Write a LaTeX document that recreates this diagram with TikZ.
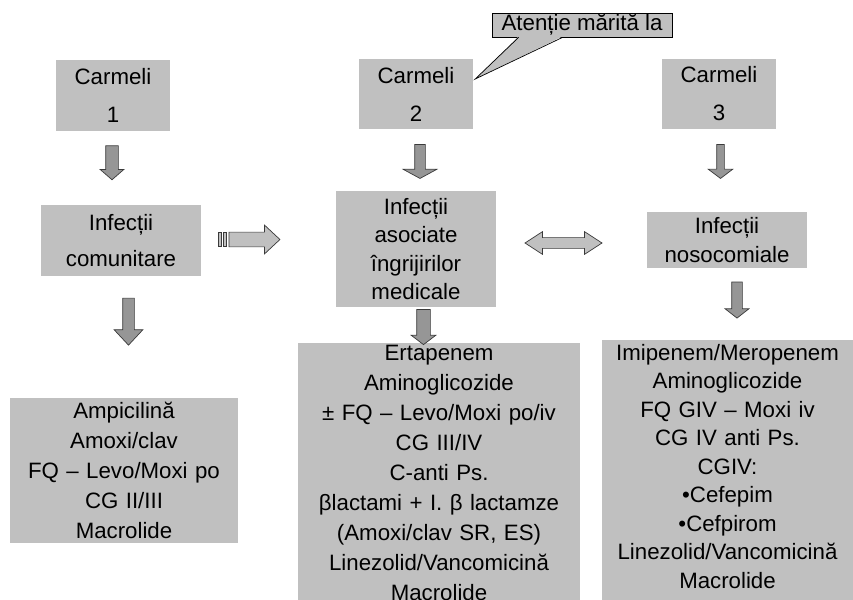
\documentclass[tikz,border=0pt]{standalone}
\usepackage{fontspec}
\setmainfont{Liberation Sans}
\usepackage{tikz}
\usetikzlibrary{shapes.arrows, calc}
\definecolor{boxgray}{HTML}{C0C0C0}
\definecolor{arrowgray}{HTML}{969696}
\definecolor{edgegray}{HTML}{3A3A3A}
\tikzstyle{box} = [rectangle, fill=boxgray, inner sep=0pt, align=center]
\tikzstyle{downarrow} = [single arrow, rotate=-90, draw=edgegray, fill=arrowgray, line width=0.6pt, minimum width=0pt, inner sep=0pt, single arrow tip angle=104]
\tikzstyle{sidearrow} = [single arrow, draw=edgegray, fill=boxgray, line width=0.6pt, minimum width=0pt, inner sep=0pt]
\tikzstyle{botharrow} = [double arrow, draw=edgegray, fill=boxgray, line width=0.6pt, minimum width=0pt, inner sep=0pt]
\tikzstyle{stripe} = [draw=edgegray, fill=boxgray, line width=0.6pt]

\begin{document}
\begin{tikzpicture}[x=0.03cm, y=-0.03cm]
\useasboundingbox (0,0) rectangle (853,600);

\node (c1) [box, minimum width=3.42cm, minimum height=2.13cm, text width=3.42cm, font=\fontsize{19}{32.4}\selectfont] at (113,95.5) {Carmeli\\1};
\node (c2) [box, minimum width=3.42cm, minimum height=2.1cm, text width=3.42cm, font=\fontsize{19}{32.4}\selectfont] at (416,94) {Carmeli\\2};
\node (c3) [box, minimum width=3.42cm, minimum height=2.1cm, text width=3.42cm, font=\fontsize{19}{32.4}\selectfont] at (719,94) {Carmeli\\3};

\node (inf1) [box, minimum width=4.8cm, minimum height=2.13cm, text width=4.8cm, font=\fontsize{19}{31.5}\selectfont] at (121,240.5) {Infecții\\comunitare};
\node (inf2) [box, minimum width=4.8cm, minimum height=3.48cm, text width=4.8cm, font=\fontsize{19}{24.3}\selectfont] at (416,249) {Infecții\\asociate\\îngrijirilor\\medicale};
\node (inf3) [box, minimum width=4.8cm, minimum height=1.68cm, text width=4.8cm, font=\fontsize{19}{24}\selectfont] at (727,240) {Infecții\\nosocomiale};

\node (t1) [box, minimum width=6.84cm, minimum height=4.35cm, text width=6.84cm, font=\fontsize{19}{25.6}\selectfont] at (124,470.5) {Ampicilină\\Amoxi/clav\\FQ – Levo/Moxi po\\CG II/III\\Macrolide};
\node (t2) [box, anchor=north, text width=8.46cm, inner ysep=0.06cm, text depth=9cm, font=\fontsize{19}{25.6}\selectfont] at (439,343) {Ertapenem\\Aminoglicozide\\± FQ – Levo/Moxi po/iv\\CG III/IV\\C-anti Ps.\\βlactami + I. β lactamze\\(Amoxi/clav SR, ES)\\Linezolid/Vancomicină\\Macrolide};
\node (t3) [box, anchor=north, text width=7.53cm, inner ysep=0.12cm, text depth=9cm, font=\fontsize{19}{24.3}\selectfont] at (727.5,340) {Imipenem/Meropenem\\Aminoglicozide\\FQ GIV – Moxi iv\\CG IV anti Ps.\\CGIV:\\•Cefepim\\•Cefpirom\\Linezolid/Vancomicină\\Macrolide};

\node (a1) [downarrow, minimum height=1.02cm, inner ysep=0.18cm, single arrow head extend=0.165cm, single arrow tip angle=98] at (112,160) {};
\node (a2) [downarrow, minimum height=1.41cm, inner ysep=0.165cm, single arrow head extend=0.255cm, single arrow tip angle=86] at (128.5,318.5) {};
\node (a3) [downarrow, minimum height=1.02cm, inner ysep=0.15cm, single arrow head extend=0.345cm, single arrow tip angle=123] at (420,160) {};
\node (a4) [downarrow, minimum height=1.05cm, inner ysep=0.195cm, single arrow head extend=0.165cm, single arrow tip angle=106] at (423.5,324.5) {};
\node (a5) [downarrow, minimum height=1.02cm, inner ysep=0.105cm, single arrow head extend=0.255cm, single arrow tip angle=106] at (720.5,160) {};
\node (a6) [downarrow, minimum height=1.08cm, inner ysep=0.15cm, single arrow head extend=0.195cm] at (737,298) {};

\node (r1) [sidearrow, minimum height=1.53cm, inner ysep=0.21cm, single arrow head extend=0.21cm, single arrow tip angle=86] at (250.5,239.5) {};
\filldraw[stripe] ($(r1.tail)+(-10,-7)$) rectangle ($(r1.tail)+(-7,7)$);
\filldraw[stripe] ($(r1.tail)+(-5.5,-7)$) rectangle ($(r1.tail)+(-2,7)$);
\node (r2) [botharrow, minimum height=2.31cm, inner ysep=0.15cm, double arrow head extend=0.18cm, double arrow tip angle=66] at (563.5,243) {};

\node (note) [box, draw=black, line width=0.6pt, minimum width=5.4cm, minimum height=0.72cm, font=\fontsize{19}{23}\selectfont] at (582,25) {Atenție mărită la};
\coordinate (tip) at ($(c2.east)+(2,-15)$);
\fill[boxgray] ($(note.south west)+(27,-1)$) -- (tip) -- ($(note.south west)+(71,-1)$) -- cycle;
\draw[line width=0.6pt] ($(note.south west)+(27,0)$) -- (tip) -- ($(note.south west)+(71,0)$);

\end{tikzpicture}
\end{document}
